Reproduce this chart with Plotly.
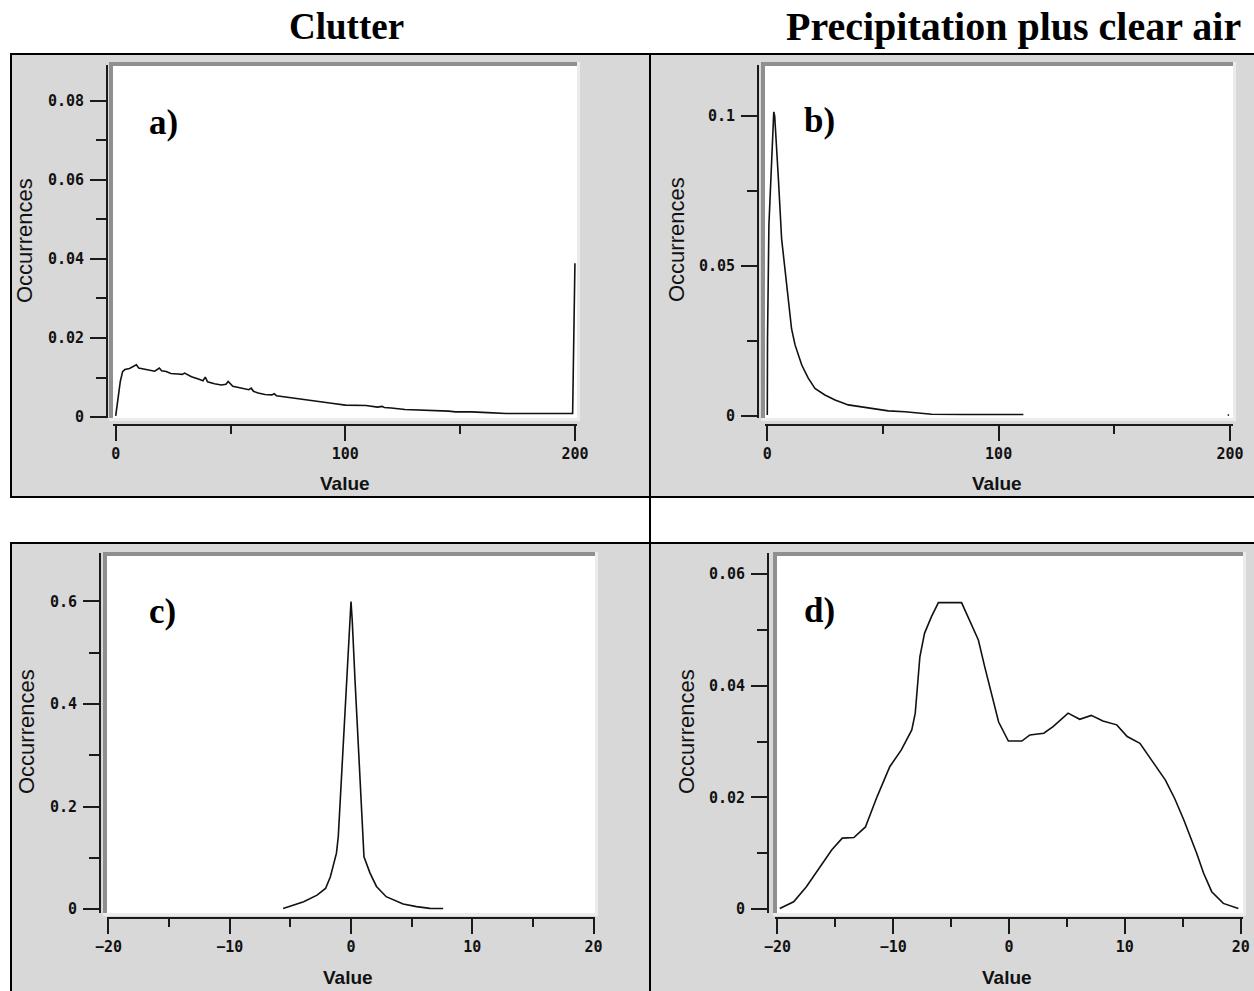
import plotly.graph_objects as go

W, H = 1254, 991

# ---------------- data ----------------
# a) Clutter, value 0..200
a_x = [0, 1, 2, 3, 4, 6, 8, 9, 10, 12, 15, 17, 19, 20, 22, 24, 27, 29, 30, 33, 36, 38, 39, 40,
       43, 46, 48, 49, 51, 55, 58, 59, 60, 62, 65, 68, 69, 70, 74, 80, 85, 90, 94, 100, 105,
       109, 114, 116, 117, 120, 126, 133, 140, 145, 148, 155, 162, 165, 170, 177, 184, 190,
       191, 195, 199, 200]
a_y = [0.0003, 0.0051, 0.0090, 0.0115, 0.0120, 0.0123, 0.0130, 0.0132, 0.0124, 0.0122, 0.0119,
       0.0116, 0.0124, 0.0117, 0.0115, 0.0110, 0.0109, 0.0108, 0.0111, 0.0102, 0.0096, 0.0092,
       0.0101, 0.0089, 0.0084, 0.0081, 0.0083, 0.0090, 0.0078, 0.0072, 0.0069, 0.0073, 0.0065,
       0.0061, 0.0057, 0.0056, 0.0059, 0.0054, 0.0051, 0.0047, 0.0042, 0.0038, 0.0035, 0.0030,
       0.0030, 0.0029, 0.0025, 0.0027, 0.0024, 0.0023, 0.0019, 0.0018, 0.0016, 0.0015, 0.0013,
       0.0013, 0.0011, 0.0010, 0.0009, 0.0009, 0.0009, 0.0010, 0.0009, 0.0009, 0.0009, 0.0389]

# b) Precipitation plus clear air, value 0..200
b_x = [0, 0.1, 0.7, 1.9, 2.8, 3.2, 4.0, 4.8, 6.2, 7.7, 9.1, 10.5, 12.0, 14.9, 17.7, 20.6, 24.9,
       29.3, 35.0, 43.7, 52.3, 59.5, 71.0, 85.0, 98.0, 110.7]
b_y = [0.0003, 0.0259, 0.0637, 0.089, 0.1014, 0.1000, 0.087, 0.079, 0.059, 0.048, 0.040, 0.029,
       0.0237, 0.017, 0.0126, 0.0092, 0.0070, 0.0053, 0.0037, 0.0026, 0.0017, 0.0014, 0.0006,
       0.0005, 0.0005, 0.0005]
b_tail_x = [199.0, 199.6]
b_tail_y = [0.0003, 0.0003]

# c) Clutter, value -20..20
c_x = [-5.6, -5.0, -3.9, -2.8, -2.1, -1.7, -1.2, -1.05, -0.9, -0.77, -0.63, -0.5, -0.36, -0.22,
       -0.13, 0.0, 0.1, 0.19, 0.33, 0.47, 0.6, 0.69, 0.8, 0.96, 1.07, 1.57, 2.1, 2.9, 4.3, 5.4,
       6.5, 7.6]
c_y = [0.001, 0.006, 0.014, 0.027, 0.040, 0.063, 0.109, 0.141, 0.206, 0.265, 0.323, 0.385, 0.447,
       0.505, 0.564, 0.600, 0.564, 0.505, 0.447, 0.382, 0.323, 0.265, 0.206, 0.141, 0.102, 0.070,
       0.044, 0.024, 0.0098, 0.0046, 0.0013, 0.001]

# d) Precipitation plus clear air, value -20..20
d_x = [-19.8, -18.6, -17.5, -16.3, -15.3, -14.4, -13.4, -12.4, -11.4, -10.3, -9.3, -8.4, -8.1,
       -7.7, -7.3, -6.7, -6.1, -4.1, -3.4, -2.65, -2.1, -1.6, -0.9, -0.06, 1.1, 1.8, 3.0, 3.8,
       5.1, 6.1, 7.1, 8.1, 9.3, 10.2, 11.3, 12.5, 13.5, 14.3, 15.1, 16.2, 16.8, 17.5, 18.5, 19.8]
d_y = [0.0001, 0.0013, 0.0040, 0.0076, 0.0106, 0.0127, 0.0128, 0.0147, 0.0201, 0.0255, 0.0285,
       0.0321, 0.0351, 0.0452, 0.0494, 0.0524, 0.0549, 0.0549, 0.0518, 0.0482, 0.0434, 0.0392,
       0.0335, 0.0301, 0.0301, 0.0312, 0.0315, 0.0327, 0.0351, 0.0340, 0.0347, 0.0337, 0.0330,
       0.0309, 0.0297, 0.0261, 0.0231, 0.0198, 0.0159, 0.0100, 0.0064, 0.0031, 0.0010, 0.0001]

col_titles = ["Clutter", "Precipitation plus clear air"]
panel_labels = ["a)", "b)", "c)", "d)"]
x_title = "Value"
y_title = "Occurrences"

# ---------------- styling ----------------
AX = "#1a1a1a"
PANEL = "#d8d8d8"
FRAME_DARK = "#8f8f8f"
FRAME_LIGHT = "#ececec"
TICKFONT = dict(family="DejaVu Sans Mono", size=15, color="#111", weight="bold")


def fx(px):
    return px / W


def fy(py):
    return 1 - py / H


def xaxis(dom, rng, pos, dtick, mdtick):
    return dict(domain=[fx(dom[0]), fx(dom[1])], range=rng, anchor="free", position=fy(pos),
                automargin=False,
                showline=True, linecolor=AX, linewidth=2, ticks="outside", ticklen=15,
                tickwidth=2, tickcolor=AX, tickmode="linear", tick0=0, dtick=dtick,
                minor=dict(ticks="outside", ticklen=8, tickwidth=2, tickcolor=AX,
                           tickmode="linear", tick0=0, dtick=mdtick, showgrid=False),
                showgrid=False, zeroline=False, tickfont=TICKFONT, fixedrange=True)


def yaxis(dom, rng, pos, dtick, mdtick):
    return dict(domain=[fy(dom[1]), fy(dom[0])], range=rng, anchor="free", position=fx(pos),
                automargin=False,
                showline=True, linecolor=AX, linewidth=2, ticks="outside", ticklen=16,
                tickwidth=2, tickcolor=AX, tickmode="linear", tick0=0, dtick=dtick,
                minor=dict(ticks="outside", ticklen=10, tickwidth=2, tickcolor=AX,
                           tickmode="linear", tick0=0, dtick=mdtick, showgrid=False),
                showgrid=False, zeroline=False, tickfont=TICKFONT, fixedrange=True,
                ticklabelstandoff=3)


fig = go.Figure()
line = dict(color="#111", width=1.6)
fig.add_trace(go.Scatter(x=a_x, y=a_y, mode="lines", line=line, xaxis="x", yaxis="y"))
fig.add_trace(go.Scatter(x=b_x, y=b_y, mode="lines", line=line, xaxis="x2", yaxis="y2"))
fig.add_trace(go.Scatter(x=b_tail_x, y=b_tail_y, mode="lines", line=line, xaxis="x2", yaxis="y2"))
fig.add_trace(go.Scatter(x=c_x, y=c_y, mode="lines", line=line, xaxis="x3", yaxis="y3"))
fig.add_trace(go.Scatter(x=d_x, y=d_y, mode="lines", line=line, xaxis="x4", yaxis="y4"))

fig.update_layout(
    template="none",
    xaxis=xaxis((113, 577), [-1.18, 200.9], 425, 100, 50),
    yaxis=yaxis((65, 418), [-0.00025, 0.0891], 107, 0.02, 0.01),
    xaxis2=xaxis((765, 1233), [-0.99, 201.3], 425, 100, 50),
    yaxis2=yaxis((65, 418), [-0.00067, 0.117], 758, 0.05, 0.025),
    xaxis3=xaxis((107, 595), [-20.12, 20.12], 918, 10, 5),
    yaxis3=yaxis((553, 913), [-0.0078, 0.6946], 100, 0.2, 0.1),
    xaxis4=xaxis((775, 1243), [-20.21, 20.2], 918, 10, 5),
    yaxis4=yaxis((553, 913), [-0.00072, 0.0638], 768, 0.02, 0.01),
)

shapes = []


def rect(x0, y0, x1, y1, fill, lc=None, lw=0):
    shapes.append(dict(type="rect", xref="paper", yref="paper", x0=fx(x0), x1=fx(x1),
                       y0=fy(y1), y1=fy(y0), fillcolor=fill, layer="below",
                       line=dict(color=lc or fill, width=lw)))


def segment(x0, y0, x1, y1, color, width):
    shapes.append(dict(type="line", xref="paper", yref="paper", x0=fx(x0), x1=fx(x1),
                       y0=fy(y0), y1=fy(y1), layer="below", line=dict(color=color, width=width)))


# panel boxes
rect(11, 54, 650, 497, PANEL, "#000", 2)
rect(650, 54, 1262, 497, PANEL, "#000", 2)
rect(11, 543, 650, 1000, PANEL, "#000", 2)
rect(650, 543, 1262, 1000, PANEL, "#000", 2)
segment(650, 497, 650, 543, "#000", 2)

# plot-area frames + white backgrounds
for (l, t, r, b) in [(113, 66, 577, 418), (765, 66, 1233, 418), (107, 556, 595, 913), (777, 556, 1243, 913)]:
    rect(l - 4, t - 4, r + 3, b + 3, FRAME_LIGHT)
    rect(l - 4, t - 4, r, b, FRAME_DARK)
    rect(l, t, r, b, "white")

annotations = []
for txt, cx, size in [(col_titles[0], 346, 37), (col_titles[1], 1013, 40)]:
    annotations.append(dict(text=txt, x=fx(cx), y=fy(27), xref="paper", yref="paper",
                            showarrow=False, xanchor="center", yanchor="middle",
                            font=dict(family="Liberation Serif", size=size, color="#000", weight="bold")))

LABEL_FONT = dict(family="Liberation Serif", size=35, color="#000", weight="bold")
for lab, (cx, cy) in zip(panel_labels, [(163, 122), (819, 120), (162, 611), (819, 610)]):
    annotations.append(dict(text=lab, x=fx(cx), y=fy(cy), xref="paper", yref="paper",
                            showarrow=False, xanchor="center", yanchor="middle", font=LABEL_FONT))

YT_FONT = dict(family="Liberation Sans", size=22, color="#111")
for (cx, cy) in [(25, 241), (676, 240), (26, 732), (686, 732)]:
    annotations.append(dict(text=y_title, x=fx(cx), y=fy(cy), xref="paper", yref="paper",
                            showarrow=False, xanchor="center", yanchor="middle", textangle=-90,
                            font=YT_FONT))

XT_FONT = dict(family="Liberation Sans", size=19, color="#111", weight="bold")
for (cx, cy) in [(345, 483), (997, 483), (348, 977), (1007, 977)]:
    annotations.append(dict(text=x_title, x=fx(cx), y=fy(cy), xref="paper", yref="paper",
                            showarrow=False, xanchor="center", yanchor="middle", font=XT_FONT))

fig.update_layout(
    width=W, height=H, autosize=False, margin=dict(l=0, r=0, t=0, b=0, pad=0),
    paper_bgcolor="white", plot_bgcolor="white", showlegend=False,
    shapes=shapes, annotations=annotations,
)

fig.write_html("out.html", config={"displayModeBar": False},
               post_script="document.body.style.margin='0';document.body.style.overflow='hidden';")
